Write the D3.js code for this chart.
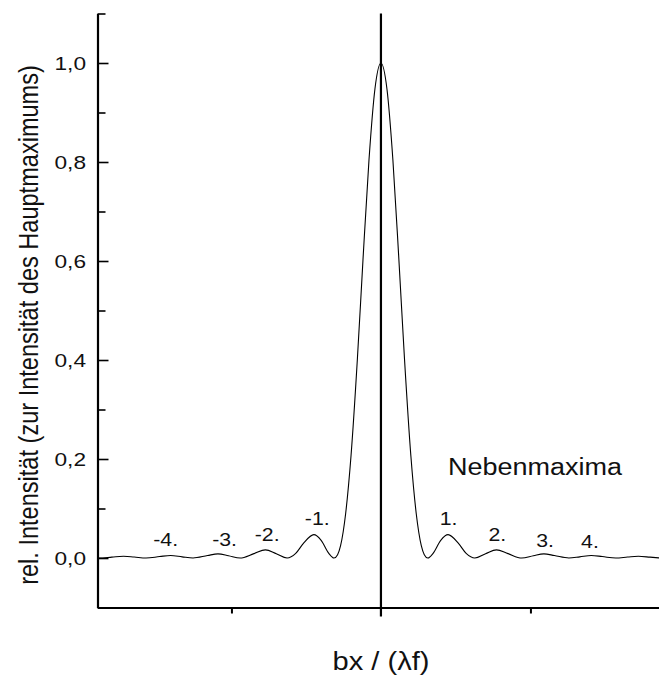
<!DOCTYPE html>
<html lang="de">
<head>
<meta charset="utf-8">
<title>Einzelspalt</title>
<script src="https://cdn.jsdelivr.net/npm/d3@7"></script>
<style>
  html, body { margin: 0; padding: 0; background: #fff; }
  svg { display: block; font-family: "Liberation Sans", Arial, sans-serif; }
</style>
</head>
<body>
<script>
// alpha = pi*b*x/(lambda*f) (px -> alpha)
const alpha = [-18.96, -18.85, -18.0, -17.22, -16.5, -15.71, -14.8, -14.07, -13.3, -12.57,
  -11.6, -10.9, -10.2, -9.42, -8.5, -7.73, -7.0, -6.28, -5.7, -5.2, -4.49, -4.0, -3.5, -3.14,
  -2.9, -2.7, -2.36, -2.0, -1.57, -1.2, -0.8, -0.4, 0,
  0.4, 0.8, 1.2, 1.57, 2.0, 2.36, 2.7, 2.9,
  3.14, 3.5, 4.0, 4.49, 5.2, 5.7, 6.28, 7.0, 7.73, 8.5, 9.42, 10.2, 10.9, 11.6, 12.57,
  13.3, 14.07, 14.8, 15.71, 16.5, 17.22, 18.0, 18.6];
const intensity = [0.0001, 0, 0.0017, 0.0034, 0.0019, 0, 0.0029, 0.005, 0.0023, 0,
  0.005, 0.0083, 0.0047, 0, 0.0088, 0.0165, 0.0088, 0, 0.0093, 0.0289, 0.0472, 0.0358, 0.01, 0,
  0.0068, 0.025, 0.09, 0.207, 0.405, 0.603, 0.804, 0.948, 1.0,
  0.948, 0.804, 0.603, 0.405, 0.207, 0.09, 0.025, 0.0068,
  0, 0.01, 0.0358, 0.0472, 0.0289, 0.0093, 0, 0.0088, 0.0165, 0.0088, 0, 0.0047, 0.0083, 0.005, 0,
  0.0023, 0.005, 0.0029, 0, 0.0019, 0.0034, 0.0017, 0.0002];

const yMajor = [0, 0.2, 0.4, 0.6, 0.8, 1.0];
const yMinor = [-0.1, 0.1, 0.3, 0.5, 0.7, 0.9, 1.1];
const xTicks = [-10, 10];

// peak labels: text, alpha position of centre, intensity at baseline
const peakNames = ["-4.", "-3.", "-2.", "-1.", "1.", "2.", "3.", "4."];
const peakX = [-14.4, -10.46, -7.61, -4.26, 4.53, 7.79, 10.98, 13.98];
const peakY = [0.024, 0.024, 0.035, 0.067, 0.067, 0.035, 0.023, 0.020];

const w = 659, h = 677;
const svg = d3.select("body").append("svg")
  .attr("width", w).attr("height", h);

const x = d3.scaleLinear([-18.96, 18.6], [97.5, 659]);
const y = d3.scaleLinear([-0.1, 1.1], [607.5, 13.5]);

const de = d3.formatLocale({decimal: ",", thousands: ".", grouping: [3], currency: ["", " €"]});
const fmt = de.format(".1f");

// y axis, ticks pointing inwards
const yAxis = svg.append("g")
  .attr("transform", `translate(${x(-18.96)},0)`)
  .call(d3.axisLeft(y).tickValues(yMajor).tickSizeInner(-11).tickSizeOuter(0)
    .tickPadding(11.5).tickFormat(fmt));
yAxis.select(".domain").attr("stroke-width", 2.2);
yAxis.selectAll(".tick line").attr("stroke-width", 1.6);
yAxis.selectAll(".tick text")
  .attr("font-size", 19).attr("font-family", "Liberation Sans, Arial, sans-serif")
  .attr("fill", "#111")
  .attr("textLength", 31.5).attr("lengthAdjust", "spacingAndGlyphs");

const yMin = svg.append("g")
  .attr("transform", `translate(${x(-18.96)},0)`)
  .call(d3.axisLeft(y).tickValues(yMinor).tickSizeInner(-8).tickSizeOuter(0).tickFormat(""));
yMin.select(".domain").remove();
yMin.selectAll(".tick line").attr("stroke-width", 1.6);

// x axis
const xAxis = svg.append("g")
  .attr("transform", `translate(0,${y(-0.1)})`)
  .call(d3.axisBottom(x).tickValues(xTicks).tickSizeInner(6).tickSizeOuter(0).tickFormat(""));
xAxis.select(".domain").attr("stroke-width", 2.2);
xAxis.selectAll(".tick line").attr("stroke-width", 2);

// vertical line through the main maximum
svg.append("line")
  .attr("x1", x(0)).attr("x2", x(0))
  .attr("y1", y(1.1)).attr("y2", y(-0.1) + 9)
  .attr("stroke", "#000").attr("stroke-width", 2.2);

// intensity curve
const pts = alpha.map((a, i) => [a, intensity[i]]);
svg.append("path")
  .datum(pts)
  .attr("fill", "none")
  .attr("stroke", "#000")
  .attr("stroke-width", 1.1)
  .attr("d", d3.line().x(d => x(d[0])).y(d => y(d[1])).curve(d3.curveMonotoneX));

// peak labels (stretched a little, like the original)
svg.selectAll("text.peak")
  .data(peakNames)
  .join("text")
  .attr("class", "peak")
  .attr("x", (d, i) => x(peakX[i]))
  .attr("y", (d, i) => y(peakY[i]))
  .attr("text-anchor", "middle")
  .attr("font-size", 18.5)
  .attr("fill", "#111")
  .text(d => d)
  .each(function() {
    const len = this.getComputedTextLength();
    d3.select(this).attr("textLength", len * 1.15).attr("lengthAdjust", "spacingAndGlyphs");
  });

svg.append("text")
  .attr("x", 448).attr("y", 475)
  .attr("font-size", 23.5)
  .attr("textLength", 174).attr("lengthAdjust", "spacingAndGlyphs")
  .attr("fill", "#111")
  .text("Nebenmaxima");

// axis titles
svg.append("text")
  .attr("x", 381).attr("y", 670)
  .attr("text-anchor", "middle")
  .attr("font-size", 26.5)
  .attr("textLength", 97).attr("lengthAdjust", "spacingAndGlyphs")
  .attr("fill", "#111")
  .text("bx / (\u03bbf)");

// y title: squeeze along its length with a scale instead of textLength
const yTitle = svg.append("text")
  .attr("text-anchor", "middle")
  .attr("font-size", 27)
  .attr("fill", "#111")
  .text("rel. Intensität (zur Intensität des Hauptmaximums)");
const k = 520 / yTitle.node().getComputedTextLength();
yTitle.attr("transform", `translate(38,325) rotate(-90) scale(${k},1)`);
</script>
</body>
</html>
